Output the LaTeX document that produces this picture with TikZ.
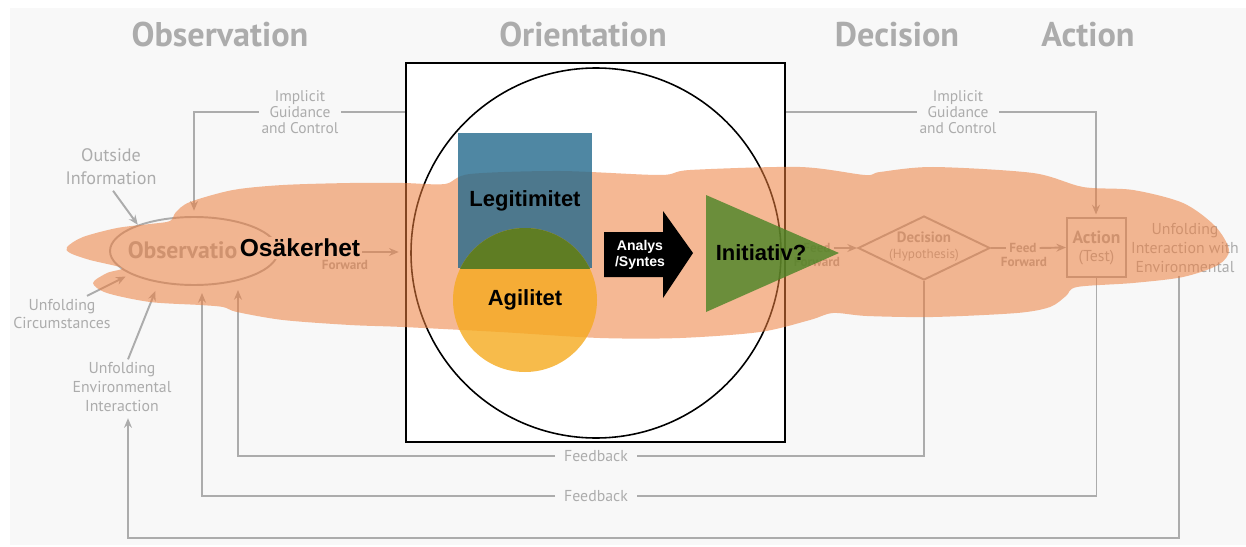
\documentclass[tikz,border=0pt]{standalone}
\usepackage{fontspec}
\setmainfont{Liberation Sans}
\newfontfamily\myriad{PT Sans}
\usetikzlibrary{arrows.meta,shapes.geometric}

\definecolor{panelgrey}{RGB}{248,248,248}
\definecolor{oodagrey}{RGB}{172,172,172}
\definecolor{cloudorange}{RGB}{237,126,61}
\definecolor{cloudmix}{RGB}{242,181,145}
\definecolor{legblue}{RGB}{35,105,140}
\definecolor{agiorange}{RGB}{245,170,31}
\definecolor{overlapgreen}{RGB}{95,125,35}
\definecolor{initgreen}{RGB}{73,132,37}

\begin{document}
\begin{tikzpicture}[x=0.02cm, y=-0.02cm, >={Stealth[length=5.5pt,width=4.5pt]},
    phase/.style={text=oodagrey, font=\myriad\bfseries\fontsize{19.5}{20}\selectfont},
    greynote/.style={text=oodagrey, align=center, inner sep=1.5pt, font=\myriad\fontsize{9}{10.8}\selectfont},
    feedtext/.style={greynote, font=\myriad\bfseries\fontsize{7.5}{8}\selectfont},
    flow/.style={draw=oodagrey, line width=1.1pt},
    keyword/.style={font=\bfseries\fontsize{12.5}{14}\selectfont}]
    \useasboundingbox (0,0) rectangle (1246,547);
    \fill[panelgrey] (10,8) rectangle (1246,545);

    % phase titles
    \node[phase] (tobs) at (220,35) {Observation};
    \node[phase] (tori) at (583,35) {Orientation};
    \node[phase] (tdec) at (897,35) {Decision};
    \node[phase] (tact) at (1088,35) {Action};

    % observe
    \node[ellipse, draw=oodagrey, line width=1.1pt, minimum width=3.36cm, minimum height=1.36cm] (obs) at (194,251) {};
    \node[text=oodagrey, font=\myriad\bfseries\fontsize{13.5}{14}\selectfont] (obstext) at (189,250) {Observation};
    \node[greynote, font=\myriad\fontsize{10.3}{13}\selectfont] (outside) at (111,167) {Outside\\Information};
    \node[greynote] (circum) at (62,314) {Unfolding\\Circumstances};
    \node[greynote] (uei) at (122,387) {Unfolding\\Environmental\\Interaction};
    \draw[flow,->,shorten <=2pt] (outside.south) -- (obs.155);
    \draw[flow,->,shorten >=3pt] ([xshift=0.5cm]circum.north) -- (obs.200);
    \draw[flow,->,shorten >=5pt] ([xshift=0.12cm]uei.north) -- (obs.222);

    % orientation box
    \node[draw, line width=1.3pt, fill=white, minimum width=7.58cm, minimum height=7.58cm, inner sep=0] (orbox) at (595.5,252.5) {};
    \draw[line width=0.9pt] (596,253) circle (185);

    % implicit guidance
    \node[greynote, font=\myriad\fontsize{8.8}{9.2}\selectfont] (guideL) at (300,112) {Implicit\\Guidance\\and Control};
    \node[greynote, font=\myriad\fontsize{8.8}{9.2}\selectfont] (guideR) at (958,112) {Implicit\\Guidance\\and Control};
    \draw[flow] (orbox.west |- guideL) -- (guideL.east);
    \draw[flow,->,shorten >=3pt] (guideL.west) -| (obs.north);
    \draw[flow] (orbox.east |- guideR) -- (guideR.west);
    \draw[flow,->,shorten >=2pt] (guideR.east) -| (1096,218);

    % decide and act
    \node[diamond, draw=oodagrey, line width=1.1pt, minimum width=2.64cm, minimum height=1.28cm, inner sep=0] (dec) at (924,248) {};
    \node[greynote, font=\myriad\fontsize{7.5}{9}\selectfont] (dectext) at (924,247) {\textbf{\fontsize{8.5}{9}\selectfont Decision}\\(Hypothesis)};
    \node[draw=oodagrey, line width=1.1pt, minimum size=1.18cm, inner sep=0] (act) at (1096.5,247.5) {};
    \node[greynote, font=\myriad\fontsize{9}{10.8}\selectfont] (acttext) at (1096.5,248) {\textbf{\fontsize{10}{10.8}\selectfont Action}\\(Test)};
    \node[greynote] (unfint) at (1185,248) {Unfolding\\Interaction with\\Environmental};

    % feed forward
    \node[feedtext] (feedL) at (345,252) {Feed};
    \node[feedtext] (fwdL) at (345,265) {Forward};
    \node[feedtext] (feedM) at (817,248) {Feed};
    \node[feedtext] (fwdM) at (817,262) {Forward};
    \node[feedtext] (feedR) at (1023,248) {Feed};
    \node[feedtext] (fwdR) at (1024,262) {Forward};
    \draw[flow,->,shorten >=3.5pt] (feedL.east) -- (orbox.west |- feedL);
    \draw[flow,->] (feedM.east) -- (dec.west);
    \draw[flow] (dec.east) -- (feedR.west);
    \draw[flow,->] (feedR.east) -- (act.west);

    % feedback loops
    \node[greynote, inner xsep=5pt] (fbinner) at (596,456) {Feedback};
    \node[greynote, inner xsep=5pt] (fbouter) at (596,496) {Feedback};
    \coordinate (fbinnertip) at (238,290);
    \coordinate (fboutertip) at (202,293);
    \coordinate (loopcorner) at (128,538);
    \draw[flow] (dec.south) |- (fbinner.east);
    \draw[flow,->] (fbinner.west) -| (fbinnertip);
    \draw[flow] (act.south) |- (fbouter.east);
    \draw[flow,->] (fbouter.west) -| (fboutertip);
    \draw[flow,->,shorten >=2pt] ([xshift=-0.12cm]unfint.south) |- (loopcorner) -- (uei.south -| loopcorner);

    % uncertainty cloud
    \fill[cloudorange, fill opacity=0.55] plot[smooth cycle, tension=0.5] coordinates {
        (67,247) (83,237) (117,228) (150,224) (170,221) (176,212) (190,202)
        (233,190) (283,185) (350,183) (403,183) (445,184) (470,174) (560,171)
        (660,175) (690,170) (800,167) (865,175) (880,172) (933,167) (1033,173)
        (1083,187) (1133,190) (1183,203) (1215,226) (1229,250) (1218,265)
        (1183,277) (1133,283) (1077,287) (1066,296) (1050,307) (1017,313)
        (933,317) (867,316) (833,313) (810,320) (760,332) (680,338) (600,338)
        (500,332) (403,327) (350,325) (283,320) (237,312) (223,307) (200,305)
        (150,302) (107,293) (93,283) (107,273) (122,268) (90,260) (70,253)};

    % orientation content
    \fill[legblue, fill opacity=0.8] (458,133) rectangle (592,268);
    \fill[agiorange, fill opacity=0.8] (525,300) circle (72);
    \begin{scope}
        \clip (458,133) rectangle (592,268);
        \fill[overlapgreen] (525,300) circle (72);
    \end{scope}
    \node[keyword] (legit) at (525,201) {Legitimitet};
    \node[keyword] (agil) at (525,300) {Agilitet};
    \fill (604,232) -- (663,232) -- (663,211) -- (693,253) -- (663,298) -- (663,277) -- (604,277) -- cycle;
    \node[text=white, align=center, font=\bfseries\fontsize{8}{9.5}\selectfont] (analys) at (640,255) {Analys\\/Syntes};
    \fill[initgreen, fill opacity=0.8] (706,195) -- (706,312) -- (839,253) -- cycle;
    \node[keyword] (init) at (761,253) {Initiativ?};
    \node[fill=cloudmix, inner sep=1pt, font=\bfseries\fontsize{14}{16}\selectfont] (osak) at (300,248) {Osäkerhet};
\end{tikzpicture}
\end{document}
